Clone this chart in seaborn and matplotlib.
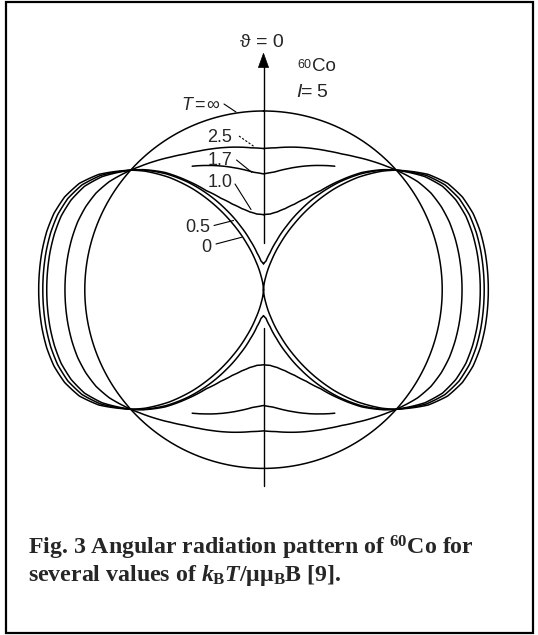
import numpy as np
import pandas as pd
import matplotlib
matplotlib.use("Agg")
import matplotlib.pyplot as plt
from matplotlib.patches import Polygon, Rectangle
from matplotlib.lines import Line2D
import seaborn as sns

# Emission angle from the orientation axis (degrees), first quadrant;
# the pattern is symmetric about both axes.
theta_deg = [0, 5, 10, 15, 20, 25, 30, 35, 40, 45, 48, 50, 55, 60, 65, 70, 75, 80, 85, 90]

# Relative gamma intensity W(theta) for several values of kB T / mu muB B
w_inf = [1.000, 1.000, 1.000, 1.000, 1.000, 1.000, 1.000, 1.000, 1.000, 1.000,
         1.000, 1.000, 1.000, 1.000, 1.000, 1.000, 1.000, 1.000, 1.000, 1.000]
w_2p5 = [0.790, 0.797, 0.810, 0.824, 0.839, 0.856, 0.877, 0.906, 0.940, 0.976,
         1.000, 1.015, 1.054, 1.082, 1.098, 1.107, 1.110, 1.111, 1.111, 1.111]
w_1p0 = [0.420, 0.425, 0.442, 0.470, 0.510, 0.565, 0.640, 0.745, 0.856, 0.950,
         1.000, 1.029, 1.103, 1.157, 1.188, 1.205, 1.211, 1.213, 1.213, 1.213]
w_0p5 = [0.145, 0.161, 0.209, 0.284, 0.381, 0.493, 0.613, 0.733, 0.846, 0.947,
         1.000, 1.032, 1.114, 1.173, 1.208, 1.226, 1.233, 1.235, 1.235, 1.235]
w_0p0 = [0.000, 0.019, 0.074, 0.162, 0.276, 0.407, 0.547, 0.688, 0.820, 0.938,
         1.000, 1.035, 1.125, 1.190, 1.228, 1.248, 1.256, 1.258, 1.258, 1.258]

# kB T / mu muB B = 1.7 is traced only close to the axis
theta_1p7 = [0, 5, 10, 15, 20, 25, 30]
w_1p7 = [0.648, 0.660, 0.684, 0.710, 0.738, 0.767, 0.798]

W, H = 538, 635
sns.set_style("white")
plt.rcParams["font.family"] = ["Liberation Sans", "DejaVu Sans"]
plt.rcParams["mathtext.fontset"] = "custom"
plt.rcParams["mathtext.rm"] = "Liberation Serif:bold"
plt.rcParams["mathtext.it"] = "Liberation Serif:italic:bold"
plt.rcParams["mathtext.bf"] = "Liberation Serif:bold"

fig = plt.figure(figsize=(W / 100, H / 100), dpi=100)
fig.patch.set_facecolor("white")


def px(x, y):
    """Pixel position (origin top-left) -> figure fraction."""
    return x / W, 1 - y / H


# polar axes: centre at (263.5, 289.7) px, unit radius = 178.7 px
cx, cy, unit, rmax = 263.5, 289.7, 178.7, 1.35
rad_px = unit * rmax
ax = fig.add_axes([(cx - rad_px) / W, (H - cy - rad_px) / H,
                   2 * rad_px / W, 2 * rad_px / H], projection="polar")


def full_turn(th, w):
    th = np.asarray(th, float)
    w = np.asarray(w, float)
    t = np.concatenate([th, 180 - th[::-1], 180 + th, 360 - th[::-1]])
    r = np.concatenate([w, w[::-1], w, w[::-1]])
    return t, r


frames = []
for name, w in [("inf", w_inf), ("2.5", w_2p5), ("1.0", w_1p0),
                ("0.5", w_0p5), ("0", w_0p0)]:
    t, r = full_turn(theta_deg, w)
    frames.append(pd.DataFrame({"theta": np.deg2rad(t), "W": r, "curve": name}))

th17 = np.asarray(theta_1p7, float)
w17 = np.asarray(w_1p7, float)
for name, base in [("1.7 top", 0.0), ("1.7 bottom", 180.0)]:
    t = np.concatenate([base - th17[::-1], base + th17[1:]])
    r = np.concatenate([w17[::-1], w17[1:]])
    frames.append(pd.DataFrame({"theta": np.deg2rad(t), "W": r, "curve": name}))

df = pd.concat(frames, ignore_index=True)

sns.lineplot(data=df, x="theta", y="W", units="curve", estimator=None,
             sort=False, color="black", linewidth=1.1, ax=ax, legend=False)

# orientation axis (broken near the origin)
ax.plot([0, 0], [0.26, 1.26], color="black", lw=1.0)
ax.plot([np.pi, np.pi], [0.214, 1.10], color="black", lw=1.0)

# draw straight data segments as arcs in the polar frame
for ln in ax.lines:
    ln.get_path()._interpolation_steps = 12

ax.set_theta_zero_location("N")
ax.set_theta_direction(-1)
ax.set_ylim(0, rmax)
ax.set_axis_off()

# arrow head on the axis
fig.add_artist(Polygon([px(263.5, 53.3), px(258.4, 67.5), px(268.6, 67.5)],
                       closed=True, facecolor="black", edgecolor="black",
                       lw=0.5, transform=fig.transFigure))

sans = ["Liberation Sans", "DejaVu Sans"]


def label(x, y, s, size, ha="left", style="normal"):
    fig.text(*px(x, y), s, fontsize=size, ha=ha, va="baseline",
             family=sans, style=style)


label(261.5, 47, "ϑ = 0", 14, ha="center")
label(297, 67.5, "60", 9)
label(312, 71, "Co", 13.5)
label(296, 97, "I", 14, style="italic")
label(301.5, 97, "=", 14)
label(316, 97, "5", 14)
label(181, 110, "T", 13, style="italic")
label(194.5, 110, "=", 13)
label(206.5, 110, "∞", 13)
label(219.5, 142, "2.5", 13, ha="center")
label(220, 165, "1.7", 13, ha="center")
label(220, 187, "1.0", 13, ha="center")
label(198, 232, "0.5", 13, ha="center")
label(206.5, 252, "0", 13, ha="center")


def leader(p0, p1, ls="-"):
    (x0, y0), (x1, y1) = px(*p0), px(*p1)
    fig.add_artist(Line2D([x0, x1], [y0, y1], color="black", lw=0.8,
                          linestyle=ls, transform=fig.transFigure))


leader((224, 104), (236, 112))
leader((239, 136), (254, 146.5), ls=(0, (2, 1.5)))
leader((236.5, 160), (252, 172.5))
leader((235, 184), (251, 209.5))
leader((214, 225.5), (233.5, 220.5))
leader((216, 244), (241.5, 237.3))

# caption
serif = ["Liberation Serif", "DejaVu Serif"]
fig.text(*px(27.5, 554), r"Fig. 3 Angular radiation pattern of $^{60}$Co for",
         fontsize=17.2, fontweight="bold", family=serif, va="baseline")
fig.text(*px(27.5, 581.5),
         r"several values of $k_{\mathrm{B}}T$/μ$\mathrm{μ}_{\mathrm{B}}$B [9].",
         fontsize=17.2, fontweight="bold", family=serif, va="baseline")

# outer frame
x0, y0 = px(6, 632.5)
x1, y1 = px(533, 1.5)
fig.add_artist(Rectangle((x0, y0), x1 - x0, y1 - y0, fill=False,
                         edgecolor="black", lw=1.6, transform=fig.transFigure))

fig.savefig("out.png", dpi=100, facecolor="white")
